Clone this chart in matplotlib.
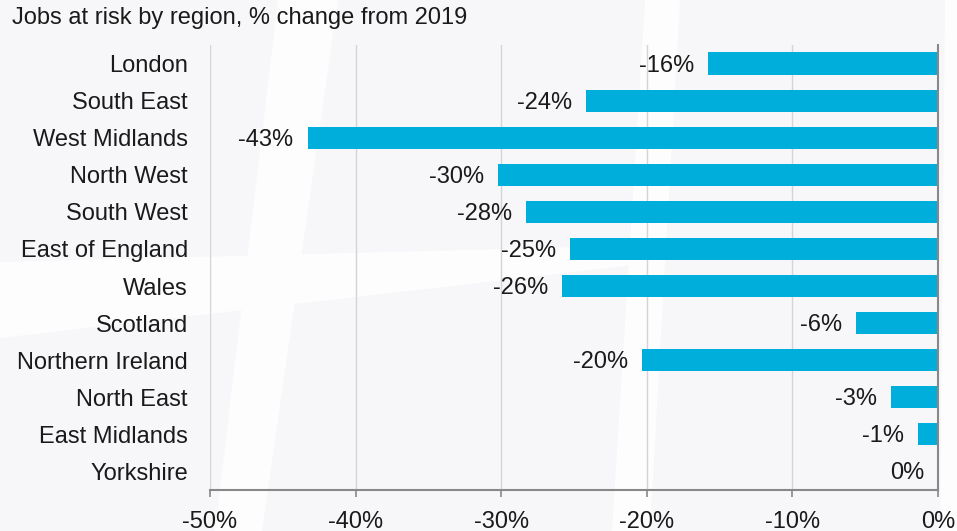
import matplotlib
matplotlib.use("Agg")
import matplotlib.pyplot as plt
from matplotlib.patches import Polygon

regions = ["London", "South East", "West Midlands", "North West", "South West",
           "East of England", "Wales", "Scotland", "Northern Ireland",
           "North East", "East Midlands", "Yorkshire"]
values = [-15.8, -24.2, -43.3, -30.2, -28.3, -25.3, -25.8, -5.6, -20.3, -3.2, -1.4, 0.0]
labels = ["-16%", "-24%", "-43%", "-30%", "-28%", "-25%", "-26%", "-6%", "-20%", "-3%", "-1%", "0%"]
xticks = [-50, -40, -30, -20, -10, 0]
xticklabels = ["-50%", "-40%", "-30%", "-20%", "-10%", "0%"]
title = "Jobs at risk by region, % change from 2019"

plt.rcParams['font.family'] = ['Liberation Sans', 'DejaVu Sans']

W, H = 957, 531
fig = plt.figure(figsize=(W / 100, H / 100), dpi=100)
fig.patch.set_facecolor('#f7f7f9')

# background axes for faint watermark shapes
bg = fig.add_axes([0, 0, 1, 1], zorder=-10)
bg.set_xlim(0, W)
bg.set_ylim(H, 0)
bg.axis('off')
for shape in [
    [(278, 0), (338, 0), (262, 531), (215, 531)],
    [(0, 262), (660, 245), (660, 262), (0, 338)],
    [(645, 0), (680, 0), (650, 531), (612, 531)],
    [(945, 0), (957, 0), (957, 531), (940, 531)],
]:
    bg.add_patch(Polygon(shape, closed=True, facecolor='#fdfdfe', edgecolor='none'))

ax = fig.add_axes([210 / W, 1 - 490 / H, (938 - 210) / W, (490 - 45) / H], zorder=1)
ax.set_facecolor('none')

y = list(range(len(regions)))
ax.barh(y, values, height=0.6, color='#00AEDB', zorder=3)

for yi, v, lab in zip(y, values, labels):
    ax.annotate(lab, (v, yi), xytext=(-14, -2), textcoords='offset pixels',
                ha='right', va='center', fontsize=17, color='#1a1a1a', zorder=4)

ax.set_xlim(-50, 0)
ax.set_ylim(len(regions) - 0.5, -0.5)
ax.set_yticks(y)
ax.set_yticklabels(regions, fontsize=17, color='#1a1a1a')
ax.set_xticks(xticks)
ax.set_xticklabels(xticklabels, fontsize=17, color='#1a1a1a')

ax.tick_params(axis='y', length=0, pad=16)
ax.tick_params(axis='x', length=5, width=1.2, color='#888888', pad=10)

for xv in xticks[:-1]:
    ax.axvline(xv, color='#d4d4d4', lw=1.0, zorder=1)

for s in ['top', 'left']:
    ax.spines[s].set_visible(False)
ax.spines['bottom'].set_color('#888888')
ax.spines['bottom'].set_linewidth(1.5)
ax.spines['right'].set_color('#888888')
ax.spines['right'].set_linewidth(1.5)
ax.spines['right'].set_zorder(5)

fig.text(12 / W, 1 - 18 / H, title, fontsize=17, color='#1a1a1a', ha='left', va='center')

fig.savefig("out.png", dpi=100, facecolor=fig.get_facecolor())
